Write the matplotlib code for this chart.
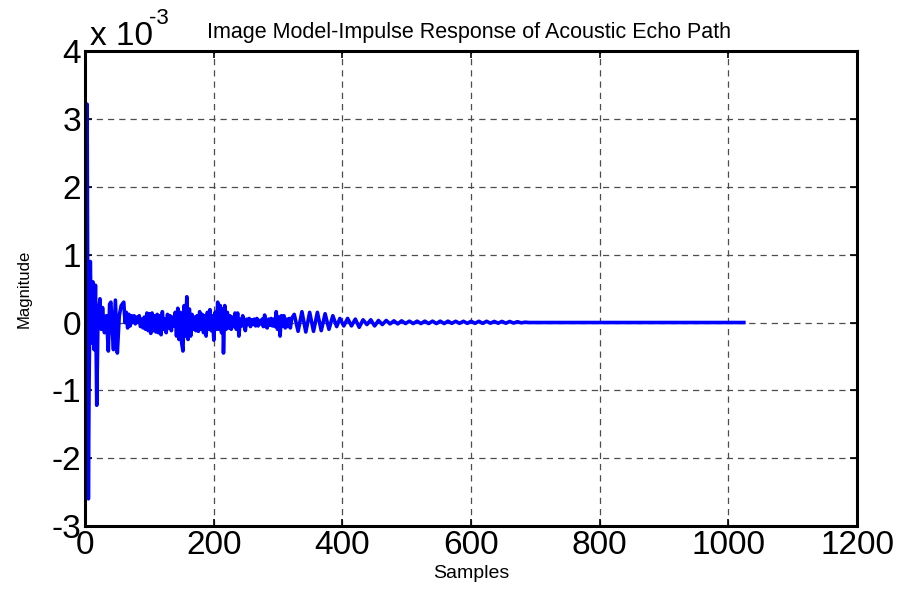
import matplotlib
matplotlib.use("Agg")
import matplotlib.pyplot as plt

# impulse response (sample index, magnitude in units of 1e-3)
samples = [0, 1, 3, 4, 5, 6, 8, 10, 12, 14, 16, 18, 20, 23, 25, 27, 30, 33, 36, 38,
           40, 42, 44, 47, 50, 53, 56, 60, 62, 64, 66, 68, 70, 72, 74, 76, 78, 80, 82, 84,
           86, 88, 90, 92, 94, 96, 98, 100, 102, 104, 106, 108, 110, 112, 114, 116, 118, 120, 122, 124,
           126, 128, 130, 132, 134, 136, 138, 140, 142, 144, 146, 148, 150, 152, 154, 156, 158, 160, 162, 164,
           166, 168, 170, 172, 174, 176, 178, 180, 182, 184, 186, 188, 190, 192, 194, 196, 198, 200, 202, 204,
           206, 208, 210, 212, 214, 215, 217, 219, 221, 223, 225, 227, 229, 231, 233, 235, 237, 239, 241, 243,
           245, 247, 249, 251, 253, 255, 257, 259, 261, 263, 265, 267, 269, 271, 273, 275, 277, 279, 281, 283,
           285, 287, 289, 291, 293, 295, 297, 299, 301, 303, 305, 307, 309, 311, 313, 315, 317, 319, 321, 325,
           331, 337, 343, 349, 355, 361, 367, 373, 379, 385, 391, 396, 402, 408, 414, 420, 426, 432, 438, 444,
           450, 456, 462, 468, 474, 480, 486, 492, 498, 504, 510, 516, 522, 528, 534, 540, 546, 552, 558, 564,
           570, 576, 582, 588, 594, 600, 606, 612, 618, 624, 630, 636, 642, 648, 654, 660, 666, 672, 678, 684,
           690, 1024]
magnitude = [0.0, 0.3, 3.22, 0.5, -2.6, -1.0, 0.9, -0.3, 0.6, -0.4, 0.55, -1.22, 0.1, 0.35, -0.1, 0.22, -0.15, 0.1, -0.42, 0.27,
             0.3, -0.1, -0.4, 0.33, -0.45, 0.1, 0.25, 0.3, 0.0, 0.15, -0.08, 0.12, -0.05, 0.1, 0.0, 0.1, -0.02, 0.08, 0.0, 0.1,
             -0.06, 0.05, -0.08, 0.08, -0.1, 0.14, -0.12, 0.13, -0.16, 0.14, -0.12, 0.1, -0.14, 0.12, -0.15, 0.1, -0.18, 0.16, -0.1, 0.05,
             -0.15, 0.12, -0.08, 0.1, -0.12, 0.08, -0.05, 0.15, -0.2, 0.21, -0.25, 0.15, -0.3, -0.42, 0.25, -0.2, 0.38, -0.25, 0.2, -0.2,
             0.12, -0.1, 0.08, -0.12, 0.1, -0.13, 0.16, -0.1, 0.12, -0.15, 0.1, -0.2, 0.15, -0.1, 0.19, -0.12, 0.1, -0.26, 0.15, -0.1,
             0.3, -0.1, 0.25, -0.15, 0.2, -0.45, 0.25, -0.1, 0.15, -0.08, 0.1, -0.1, 0.08, -0.06, 0.14, -0.1, 0.14, -0.2, 0.05, -0.05,
             0.1, -0.04, -0.12, 0.05, -0.03, 0.06, -0.06, 0.04, -0.03, 0.05, -0.05, 0.06, -0.05, 0.03, -0.02, 0.05, -0.06, 0.11, -0.06, -0.08,
             0.05, -0.04, 0.06, -0.05, 0.05, -0.06, 0.16, -0.1, 0.08, -0.2, 0.1, -0.05, 0.1, -0.08, 0.05, -0.06, 0.06, -0.08, 0.06, 0.12,
             -0.13, 0.16, -0.14, 0.15, -0.13, 0.15, -0.12, 0.13, -0.1, 0.1, -0.06, 0.06, -0.05, 0.06, -0.05, 0.05, -0.07, 0.04, -0.03, 0.04,
             -0.05, 0.03, -0.03, 0.03, -0.02, 0.025, -0.02, 0.025, -0.015, 0.02, -0.015, 0.02, -0.015, 0.02, -0.015, 0.02, -0.015, 0.02, -0.015, 0.02,
             -0.012, 0.018, -0.012, 0.018, -0.012, 0.018, -0.012, 0.018, -0.012, 0.018, -0.01, 0.016, -0.01, 0.016, -0.01, 0.015, -0.008, 0.012, -0.005, 0.005,
             0.0, 0.0]

xticks = [0, 200, 400, 600, 800, 1000, 1200]
yticks = [-3, -2, -1, 0, 1, 2, 3, 4]

plt.rcParams['font.family'] = ['Liberation Sans', 'DejaVu Sans']
plt.rcParams['axes.unicode_minus'] = False

fig = plt.figure(figsize=(9.06, 5.89), dpi=100)
ax = fig.add_axes([0.094, 0.107, 0.852, 0.806])

ax.plot(samples, magnitude, color='#0000ff', linewidth=2.6)

ax.set_xlim(0, 1200)
ax.set_ylim(-3, 4)
ax.set_xticks(xticks)
ax.set_yticks(yticks)
ax.tick_params(direction='in', length=5, width=1.2, labelsize=24, top=True, right=True, pad=3)
for s in ax.spines.values():
    s.set_linewidth(2.2)
ax.grid(True, color='0.3', linestyle=(0, (5, 4)), linewidth=0.9)

ax.set_xlabel('Samples', fontsize=14, labelpad=3)
ax.set_ylabel('Magnitude', fontsize=12, labelpad=14)

# MATLAB-style exponent label and title
fig.text(0.099, 0.924, 'x 10', fontsize=24, ha='left', va='baseline')
fig.text(0.165, 0.960, '-3', fontsize=16, ha='left', va='baseline')
fig.text(0.228, 0.936, 'Image Model-Impulse Response of Acoustic Echo Path', fontsize=15.5, ha='left', va='baseline')

fig.savefig('out.png', dpi=100)
